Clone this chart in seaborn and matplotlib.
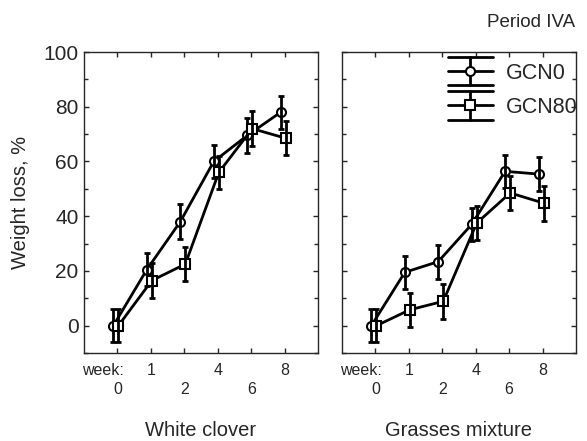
import numpy as np
import pandas as pd
import matplotlib
matplotlib.use("Agg")
import matplotlib.pyplot as plt
import seaborn as sns
from matplotlib.lines import Line2D
from matplotlib.legend_handler import HandlerBase
from matplotlib.ticker import MultipleLocator

weeks = [0, 1, 2, 4, 6, 8]

clover_gcn0 = [0, 20.5, 38, 60, 69.5, 78]
clover_gcn0_err = [6, 6, 6.3, 6, 6.3, 6]
clover_gcn80 = [0, 16.5, 22.5, 56, 72, 68.5]
clover_gcn80_err = [6, 6.5, 6.2, 6, 6.3, 6.2]

grass_gcn0 = [0, 19.5, 23.4, 37, 56.4, 55.4]
grass_gcn0_err = [6, 6, 6.2, 6, 6, 6.3]
grass_gcn80 = [0, 5.8, 8.9, 37.5, 48.5, 44.8]
grass_gcn80_err = [6, 6.3, 6.4, 6.2, 6.2, 6.4]

sns.set_style("ticks")
plt.rcParams['font.family'] = ['Liberation Sans', 'DejaVu Sans']


class HandlerBigErr(HandlerBase):
    # errorbar legend entry with wide caps, like the original
    def create_artists(self, legend, orig_handle, xdescent, ydescent,
                       width, height, fontsize, trans):
        yc = height / 2 - ydescent
        x0, x1 = -xdescent, width - xdescent
        xm = (x0 + x1) / 2
        h = height * 0.95
        arts = [
            Line2D([x0, x1], [yc, yc], color='k', lw=2),
            Line2D([xm, xm], [yc - h, yc + h], color='k', lw=2),
            Line2D([x0, x1], [yc - h, yc - h], color='k', lw=2),
            Line2D([x0, x1], [yc + h, yc + h], color='k', lw=2),
            Line2D([xm], [yc], marker=orig_handle.get_marker(), color='k',
                   markerfacecolor='white', markeredgewidth=1.5, markersize=6.5),
        ]
        for a in arts:
            a.set_transform(trans)
        return arts


fig = plt.figure(figsize=(5.87, 4.41), dpi=100)
ax1 = fig.add_axes([0.143, 0.1995, 0.399, 0.6825])
ax2 = fig.add_axes([0.5826, 0.1995, 0.3986, 0.6825])

pos = np.arange(len(weeks))
top_row = pos[1::2]
bottom_row = pos[0::2]
panels = [
    (ax1, clover_gcn0, clover_gcn0_err, clover_gcn80, clover_gcn80_err, "White clover"),
    (ax2, grass_gcn0, grass_gcn0_err, grass_gcn80, grass_gcn80_err, "Grasses mixture"),
]

for ax, g0, e0, g80, e80, name in panels:
    for vals, errs, mk, off in [(g0, e0, 'o', -0.12), (g80, e80, 's', 0.03)]:
        x = pos + off
        sns.lineplot(x=x, y=vals, ax=ax, color='k', lw=2, sort=False,
                     marker=mk, markersize=6.5, markerfacecolor='white',
                     markeredgecolor='k', markeredgewidth=1.5)
        ax.errorbar(x, vals, yerr=errs, fmt='none', ecolor='k',
                    elinewidth=2, capsize=2, capthick=2)
    ax.set_xlim(-1, 6)
    ax.set_ylim(-10, 100)
    ax.set_xticks(top_row)
    ax.set_xticklabels([str(weeks[i]) for i in top_row])
    ax.set_xticks(bottom_row, minor=True)
    ax.set_xticklabels([str(weeks[i]) for i in bottom_row], minor=True)
    ax.yaxis.set_major_locator(MultipleLocator(20))
    ax.yaxis.set_minor_locator(MultipleLocator(10))
    ax.tick_params(which='both', direction='in', top=True, right=True,
                   length=3.5, width=1)
    ax.tick_params(axis='x', which='major', labelsize=11.5, pad=7.5)
    ax.tick_params(axis='x', which='minor', labelsize=11.5, pad=21)
    ax.tick_params(axis='y', labelsize=15, pad=4)
    ax.tick_params(axis='y', which='minor', length=3)
    for sp in ax.spines.values():
        sp.set_linewidth(1)
    ax.text(0.19, -0.058, "week:", transform=ax.get_xaxis_transform(),
            ha='right', va='center', fontsize=11.5)
    ax.text(0.5, -0.256, name, transform=ax.transAxes, ha='center',
            va='center', fontsize=14.5)

ax1.set_ylabel("Weight loss, %", fontsize=14.5)
ax1.yaxis.set_label_coords(-0.23, 0.5)
ax2.tick_params(axis='y', labelleft=False)

handles = [Line2D([], [], marker='o', color='k'), Line2D([], [], marker='s', color='k')]
ax2.legend(handles, ["GCN0", "GCN80"], handler_map={Line2D: HandlerBigErr()},
           loc='upper left', bbox_to_anchor=(0.452, 0.965), frameon=False,
           borderpad=0, borderaxespad=0, fontsize=15.5, handlelength=2.1,
           handleheight=0.7, handletextpad=0.6, labelspacing=0.62)

fig.text(0.98, 0.948, "Period IVA", ha='right', va='center', fontsize=13.5)

fig.savefig("out.png", dpi=100)
